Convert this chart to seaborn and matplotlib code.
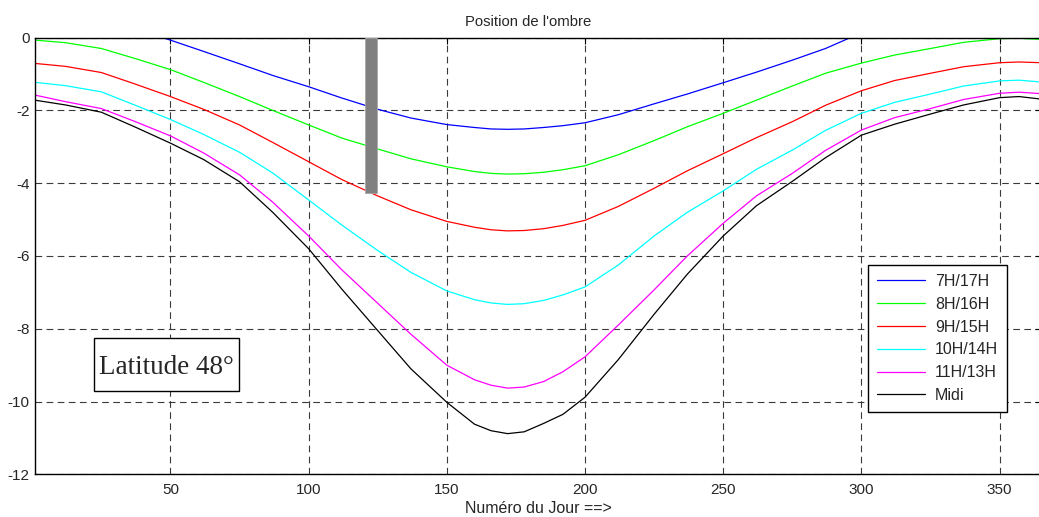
import pandas as pd
import matplotlib
matplotlib.use('Agg')
import matplotlib.pyplot as plt
from matplotlib.patches import Rectangle
import seaborn as sns

# days
days = [1, 12, 25, 37, 50, 62, 75, 87, 100, 112, 125, 137, 150, 160, 166, 172, 178,
        185, 192, 200, 212, 225, 237, 250, 262, 275, 287, 300, 312, 325, 337, 350,
        357, 365]
days_7h = [47, 50, 62, 75, 87, 100, 112, 125, 137, 150, 160, 166, 172, 178, 185,
           192, 200, 212, 225, 237, 250, 262, 275, 287, 296]

ombre_7h = [0.0, -0.07, -0.38, -0.72, -1.04, -1.35, -1.66, -1.97, -2.21, -2.39,
            -2.47, -2.51, -2.52, -2.51, -2.47, -2.42, -2.34, -2.12, -1.82, -1.55,
            -1.24, -0.95, -0.62, -0.30, 0.0]
ombre_8h = [-0.07, -0.14, -0.30, -0.57, -0.88, -1.23, -1.62, -2.00, -2.40, -2.76,
            -3.06, -3.33, -3.55, -3.68, -3.73, -3.75, -3.74, -3.70, -3.63, -3.52,
            -3.22, -2.83, -2.45, -2.08, -1.72, -1.33, -0.98, -0.70, -0.48, -0.30,
            -0.13, -0.03, -0.02, -0.05]
ombre_9h = [-0.71, -0.79, -0.96, -1.27, -1.62, -1.97, -2.40, -2.88, -3.41, -3.90,
            -4.35, -4.73, -5.05, -5.21, -5.28, -5.31, -5.30, -5.25, -5.16, -5.02,
            -4.64, -4.14, -3.66, -3.19, -2.75, -2.31, -1.86, -1.46, -1.18, -0.98,
            -0.80, -0.69, -0.67, -0.69]
ombre_10h = [-1.23, -1.32, -1.49, -1.85, -2.25, -2.66, -3.15, -3.72, -4.46, -5.15,
             -5.85, -6.45, -6.96, -7.20, -7.29, -7.33, -7.31, -7.22, -7.07, -6.85,
             -6.25, -5.45, -4.80, -4.21, -3.62, -3.09, -2.55, -2.08, -1.78, -1.55,
             -1.33, -1.19, -1.17, -1.22]
ombre_11h = [-1.58, -1.76, -1.95, -2.30, -2.70, -3.17, -3.77, -4.52, -5.45, -6.38,
             -7.30, -8.15, -9.00, -9.40, -9.55, -9.63, -9.60, -9.45, -9.18, -8.77,
             -7.90, -6.93, -6.00, -5.10, -4.35, -3.73, -3.10, -2.54, -2.20, -1.95,
             -1.70, -1.53, -1.50, -1.54]
ombre_midi = [-1.72, -1.85, -2.05, -2.45, -2.90, -3.35, -3.96, -4.80, -5.80, -6.91,
              -8.05, -9.10, -10.02, -10.62, -10.80, -10.88, -10.83, -10.60, -10.35,
              -9.88, -8.85, -7.60, -6.50, -5.45, -4.62, -3.95, -3.30, -2.68, -2.38,
              -2.10, -1.85, -1.65, -1.62, -1.69]

labels = ['7H/17H', '8H/16H', '9H/15H', '10H/14H', '11H/13H', 'Midi']
colors = ['#0000ff', '#00ff00', '#ff0000', '#00ffff', '#ff00ff', '#000000']

# gray marker bar
bar_day = 122.5
bar_depth = -4.27

frames = [pd.DataFrame({'Jour': days_7h, 'Ombre': ombre_7h, 'Heure': labels[0]})]
for lab, vals in zip(labels[1:], [ombre_8h, ombre_9h, ombre_10h, ombre_11h, ombre_midi]):
    frames.append(pd.DataFrame({'Jour': days, 'Ombre': vals, 'Heure': lab}))
df = pd.concat(frames, ignore_index=True)

sns.set_style('white')
plt.rcParams['font.family'] = ['Liberation Sans', 'DejaVu Sans']
plt.rcParams['axes.unicode_minus'] = False

fig = plt.figure(figsize=(10.39, 5.17), dpi=100)
ax = fig.add_axes([0.0337, 0.0824, 0.9683, 0.8449])

sns.lineplot(data=df, x='Jour', y='Ombre', hue='Heure', hue_order=labels,
             palette=colors, linewidth=0.9, estimator=None, sort=True, ax=ax)

ax.bar([bar_day], [bar_depth], bottom=0, width=4.4, color='#808080',
       edgecolor='#a8a8a8', linewidth=0.6, zorder=5)

ax.set_xlim(1, 365)
ax.set_ylim(-12, 0)
ax.set_xticks(range(50, 351, 50))
ax.set_yticks(range(-12, 1, 2))
ax.grid(True, color='#3a3a3a', linestyle=(0, (6, 4)), linewidth=0.8)
ax.tick_params(direction='in', top=True, right=True, length=4, labelsize=11,
               width=0.8, color='k', pad=4)
ax.tick_params(axis='x', pad=6)
for sp in ax.spines.values():
    sp.set_color('k')
    sp.set_linewidth(1.0)

ax.set_title("Position de l'ombre", fontsize=10.7, pad=8, x=0.49)
ax.set_xlabel('Numéro du Jour ==>', fontsize=11.5, labelpad=3)
ax.set_ylabel('')

# latitude label box
ax.add_patch(Rectangle((22.3, -9.71), 52.5, 1.45, facecolor='white', edgecolor='k',
                       linewidth=1.0, zorder=6))
ax.text(48.6, -9.24, 'Latitude 48°', fontsize=19.5,
        family=['Liberation Serif', 'DejaVu Serif'], ha='center', va='baseline',
        zorder=7)

leg = ax.legend(loc='upper left', bbox_to_anchor=(0.828, 0.479), borderaxespad=0,
                fontsize=11.5, frameon=True, fancybox=False, framealpha=1,
                edgecolor='k', handlelength=3.0, labelspacing=0.49, borderpad=0.55,
                handletextpad=0.65)
leg.get_frame().set_linewidth(1.0)

plt.savefig('out.png', dpi=100)
